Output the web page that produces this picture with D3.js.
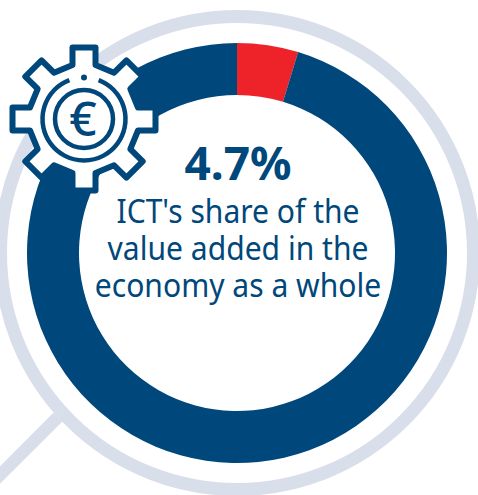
<!DOCTYPE html>
<html><head><meta charset="utf-8">
<script src="https://cdn.jsdelivr.net/npm/d3@7"></script>
<style>html,body{margin:0;padding:0;background:#fff;overflow:hidden}svg{display:block}text{font-family:"Noto Sans",sans-serif;fill:#00477b;text-anchor:middle}</style>
</head><body><svg id="c" width="478" height="495"></svg>
<script>
const categories = ["ICT", "Rest of the economy"];
const shares = [4.7, 95.3];
const sliceColors = ["#ee2329", "#00477b"];
const headline = "4.7%";
const captionLines = ["ICT's share of the", "value added in the", "economy as a whole"];

const NAVY = "#00477b", LENS = "#d9dfea";
const svg = d3.select("#c");
const cx = 237, cy = 253;

// magnifier handle and lens ring
svg.append("line").attr("x1", 58).attr("y1", 417).attr("x2", -20).attr("y2", 495)
  .attr("stroke", LENS).attr("stroke-width", 12.5);
svg.append("circle").attr("cx", cx).attr("cy", cy).attr("r", 236.5)
  .attr("fill", "#fff").attr("stroke", LENS).attr("stroke-width", 13);

// donut
const pie = d3.pie().sort(null).value(d => d.v);
const arc = d3.arc().innerRadius(158).outerRadius(210);
svg.append("g").attr("transform", `translate(${cx},${cy})`)
  .selectAll("path")
  .data(pie(categories.map((c, i) => ({c, v: shares[i]}))))
  .join("path").attr("d", arc).attr("fill", (d, i) => sliceColors[i]);

// gear icon
const gear = svg.append("g").attr("transform", "translate(84,119)");
const gearPath = d3.path();
const teeth = 8, rOut = 71.5, rBase = 54, half = 11.5;
for (let i = 0; i < teeth; i++) {
  const a = i * 2 * Math.PI / teeth - Math.PI / 2;
  const ux = Math.cos(a), uy = Math.sin(a), vx = -uy, vy = ux;
  const p = (r, s) => [r * ux + s * vx, r * uy + s * vy];
  const a0 = p(rBase, -half), a1 = p(rOut, -half), a2 = p(rOut, half), a3 = p(rBase, half);
  if (i === 0) gearPath.moveTo(...a0); else gearPath.lineTo(...a0);
  gearPath.lineTo(...a1); gearPath.lineTo(...a2); gearPath.lineTo(...a3);
}
gearPath.closePath();
gear.append("path").attr("d", gearPath.toString()).attr("fill", "#fff")
  .attr("stroke", NAVY).attr("stroke-width", 6).attr("stroke-linejoin", "round");
const gapArc = d3.arc().innerRadius(41.5).outerRadius(41.5).startAngle(0.36).endAngle(2 * Math.PI - 0.36);
gear.append("path").attr("d", gapArc()).attr("fill", "none").attr("stroke", NAVY)
  .attr("stroke-width", 4.5).attr("stroke-linecap", "round");
gear.append("circle").attr("cy", -41.5).attr("r", 3).attr("fill", NAVY);
gear.append("circle").attr("r", 29).attr("fill", "none").attr("stroke", NAVY).attr("stroke-width", 4.5);
gear.append("text").attr("x", -1).attr("y", 17).attr("font-size", 48).attr("font-weight", 500).text("€");

// text
svg.append("text").attr("x", 238).attr("y", 180).attr("font-size", 46).attr("font-weight", 700).text(headline);
const baselines = [223, 260, 297];
svg.selectAll("text.cap").data(captionLines).join("text").attr("class", "cap")
  .attr("transform", (d, i) => `translate(238,${baselines[i]}) scale(0.925,1)`)
  .attr("font-size", 32.5).text(d => d);
</script></body></html>
